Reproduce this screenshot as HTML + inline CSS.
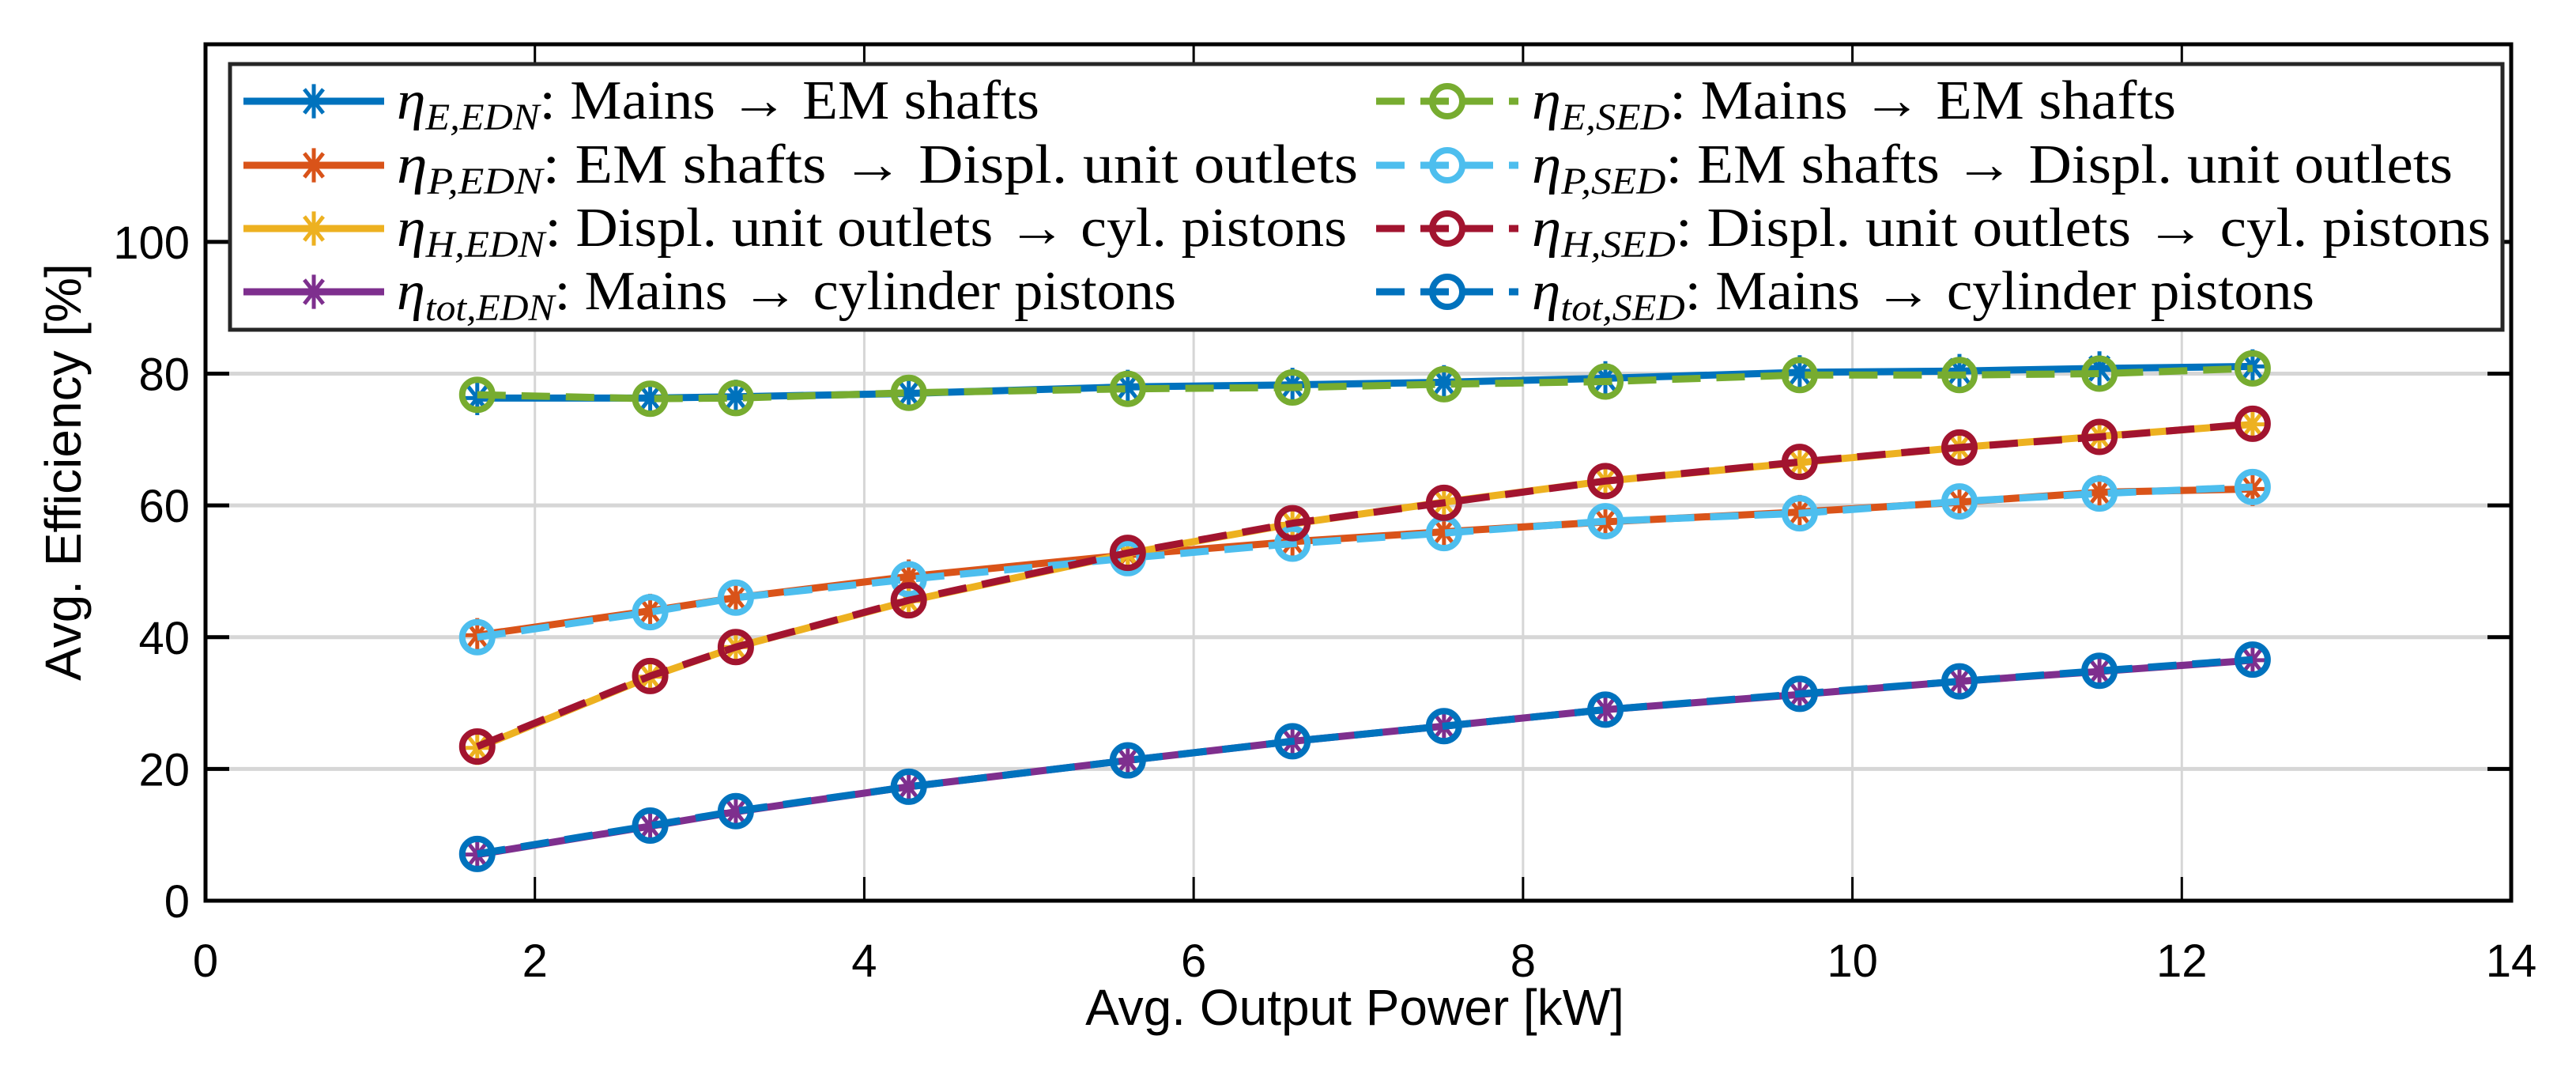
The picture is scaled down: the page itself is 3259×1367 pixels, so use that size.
<!DOCTYPE html>
<html><head><meta charset="utf-8"><style>
html,body{margin:0;padding:0;background:#fff;}
svg{display:block;}
</style></head><body>
<svg id="chart" xmlns="http://www.w3.org/2000/svg" width="3259" height="1367" viewBox="0 0 3259 1367">
<rect width="3259" height="1367" fill="#fff"/>
<g id="grid"></g>
<g id="series"></g>
<g id="axes"></g>
<text x="1714" y="1296" font-family="Liberation Sans, sans-serif" font-size="64" text-anchor="middle">Avg. Output Power [kW]</text>
<text transform="translate(102,597) rotate(-90)" font-family="Liberation Sans, sans-serif" font-size="64" text-anchor="middle">Avg. Efficiency [%]</text>
<g id="legend"></g>
</svg>
<script>
const xValues = [1.65, 2.7, 3.22, 4.27, 5.6, 6.6, 7.52, 8.5, 9.68, 10.65, 11.5, 12.43];
const etaE_EDN = [76.3, 76.3, 76.5, 77.0, 78.0, 78.3, 78.7, 79.3, 80.2, 80.4, 80.8, 81.1];
const etaP_EDN = [40.3, 44.0, 46.0, 49.2, 52.5, 54.5, 56.0, 57.5, 59.0, 60.5, 62.0, 62.5];
const etaH_EDN = [23.2, 34.0, 38.5, 45.5, 52.7, 57.2, 60.5, 63.7, 66.5, 68.8, 70.5, 72.3];
const etaTot_EDN = [7.0, 11.3, 13.5, 17.3, 21.3, 24.2, 26.5, 29.0, 31.3, 33.3, 34.8, 36.5];
const etaE_SED = [76.8, 76.2, 76.3, 77.1, 77.7, 77.9, 78.4, 78.8, 79.8, 79.8, 80.0, 80.8];
const etaP_SED = [40.0, 43.8, 46.0, 48.8, 52.0, 54.2, 55.8, 57.6, 58.8, 60.6, 61.8, 62.8];
const etaH_SED = [23.4, 34.1, 38.5, 45.6, 52.8, 57.3, 60.4, 63.7, 66.6, 68.8, 70.4, 72.4];
const etaTot_SED = [7.1, 11.4, 13.6, 17.3, 21.3, 24.2, 26.5, 29.0, 31.4, 33.3, 34.9, 36.6];
const xTicks = [0, 2, 4, 6, 8, 10, 12, 14];
const yTicks = [0, 20, 40, 60, 80, 100];

const NS = 'http://www.w3.org/2000/svg';
const L = 260, R = 3177, T = 56, B = 1139;
const XMIN = 0, XMAX = 14, YMIN = 0, YMAX = 130;
const sx = v => L + (v - XMIN) / (XMAX - XMIN) * (R - L);
const sy = v => B - (v - YMIN) / (YMAX - YMIN) * (B - T);
function mk(tag, attrs, parent){const e=document.createElementNS(NS,tag);for(const k in attrs)e.setAttribute(k,attrs[k]);parent.appendChild(e);return e;}

const grid = document.getElementById('grid');
const axes = document.getElementById('axes');
xTicks.forEach(t=>{
  if(t>XMIN && t<XMAX){
    const g = mk('line',{x1:sx(t),x2:sx(t),y1:T,y2:B,stroke:'#d6d6d6','stroke-width':3},grid);
    
    
  }
  const tk = mk('line',{x1:sx(t),x2:sx(t),y1:B,y2:B-30,stroke:'#000','stroke-width':3},axes);
  
  
  const tk2 = mk('line',{x1:sx(t),x2:sx(t),y1:T,y2:T+30,stroke:'#000','stroke-width':3},axes);
  
  
  const lb = mk('text',{x:sx(t),y:B+96,'font-family':'Liberation Sans, sans-serif','font-size':58,'text-anchor':'middle'},axes);
  lb.textContent = t;
  
  
});
yTicks.forEach(t=>{
  if(t>YMIN){
    const g = mk('line',{x1:L,x2:R,y1:sy(t),y2:sy(t),stroke:'#d6d6d6','stroke-width':5},grid);
    
    
  }
  const tk = mk('line',{x1:L,x2:L+30,y1:sy(t),y2:sy(t),stroke:'#000','stroke-width':5},axes);
  
  
  const tk2 = mk('line',{x1:R,x2:R-30,y1:sy(t),y2:sy(t),stroke:'#000','stroke-width':5},axes);
  
  
  const lb = mk('text',{x:L-20,y:sy(t)+21,'font-family':'Liberation Sans, sans-serif','font-size':58,'text-anchor':'end'},axes);
  lb.textContent = t;
  
  
});
const box = mk('rect',{x:L,y:T,width:R-L,height:B-T,fill:'none',stroke:'#000','stroke-width':5},axes);



const seriesLayer = document.getElementById('series');
function star(g,x,y,c){
  const r=16;
  [[0,1.35],[1,0],[0.75,0.95],[0.75,-0.95]].forEach(([dx,dy])=>{
    mk('line',{x1:x-dx*r,y1:y-dy*r,x2:x+dx*r,y2:y+dy*r,stroke:c,'stroke-width':5},g);
  });
}
function circ(g,x,y,c){mk('circle',{cx:x,cy:y,r:19,fill:'none',stroke:c,'stroke-width':8},g);}
const seriesDefs = [
  {name:'eta-e-edn', vals:etaE_EDN, c:'#0072BD', dash:null, m:'star'},
  {name:'eta-p-edn', vals:etaP_EDN, c:'#D95319', dash:null, m:'star'},
  {name:'eta-h-edn', vals:etaH_EDN, c:'#EDB120', dash:null, m:'star'},
  {name:'eta-tot-edn', vals:etaTot_EDN, c:'#7E2F8E', dash:null, m:'star'},
  {name:'eta-e-sed', vals:etaE_SED, c:'#77AC30', dash:'36 20', m:'circ'},
  {name:'eta-p-sed', vals:etaP_SED, c:'#4DBEEE', dash:'36 20', m:'circ'},
  {name:'eta-h-sed', vals:etaH_SED, c:'#A2142F', dash:'36 20', m:'circ'},
  {name:'eta-tot-sed', vals:etaTot_SED, c:'#0072BD', dash:'36 20', m:'circ'}
];
seriesDefs.forEach(s=>{
  const g = mk('g',{},seriesLayer);
  
  
  const pts = s.vals.map((v,i)=>sx(xValues[i])+','+sy(v)).join(' ');
  const pl = mk('polyline',{points:pts,fill:'none',stroke:s.c,'stroke-width':9,'stroke-linejoin':'round'},g);
  if(s.dash) pl.setAttribute('stroke-dasharray',s.dash);
  
  
  s.vals.forEach((v,i)=>{ if(s.m==='star') star(g,sx(xValues[i]),sy(v),s.c); else circ(g,sx(xValues[i]),sy(v),s.c); });
});

// legend
const lg = document.getElementById('legend');
const lbox = mk('rect',{x:291,y:81,width:2875,height:336,fill:'#fff',stroke:'#262626','stroke-width':5},lg);


const rowsY = [128, 209, 289, 369];
const legendEntries = [
  {col:0,row:0,c:'#0072BD',m:'star',sub:'E,EDN',txt:'Mains → EM shafts',end:1315},
  {col:0,row:1,c:'#D95319',m:'star',sub:'P,EDN',txt:'EM shafts → Displ. unit outlets',end:1718},
  {col:0,row:2,c:'#EDB120',m:'star',sub:'H,EDN',txt:'Displ. unit outlets → cyl. pistons',end:1704},
  {col:0,row:3,c:'#7E2F8E',m:'star',sub:'tot,EDN',txt:'Mains → cylinder pistons',end:1488},
  {col:1,row:0,c:'#77AC30',m:'circ',sub:'E,SED',txt:'Mains → EM shafts',end:2753},
  {col:1,row:1,c:'#4DBEEE',m:'circ',sub:'P,SED',txt:'EM shafts → Displ. unit outlets',end:3103},
  {col:1,row:2,c:'#A2142F',m:'circ',sub:'H,SED',txt:'Displ. unit outlets → cyl. pistons',end:3151},
  {col:1,row:3,c:'#0072BD',m:'circ',sub:'tot,SED',txt:'Mains → cylinder pistons',end:2928}
];
legendEntries.forEach(e=>{
  const g = mk('g',{},lg);
  
  
  const y = rowsY[e.row];
  const x0 = e.col===0?308:1741, x1 = e.col===0?486:1921, tx = e.col===0?502:1938;
  const ln = mk('line',{x1:x0,x2:x1,y1:y,y2:y,stroke:e.c,'stroke-width':9},g);
  if(e.m==='circ') ln.setAttribute('stroke-dasharray','36 20');
  if(e.m==='star') star(g,(x0+x1)/2,y,e.c); else circ(g,(x0+x1)/2,y,e.c);
  const t = mk('text',{x:tx,y:y+22,'font-family':'Liberation Serif, serif','font-size':70,textLength:e.end-tx,lengthAdjust:'spacingAndGlyphs'},g);
  const eta = mk('tspan',{'font-style':'italic'},t); eta.textContent='η';
  const sb = mk('tspan',{'font-style':'italic','font-size':48,dy:14},t); sb.textContent=e.sub;
  const rest = mk('tspan',{dy:-14},t); rest.textContent=': '+e.txt;
});
</script>
</body></html>
